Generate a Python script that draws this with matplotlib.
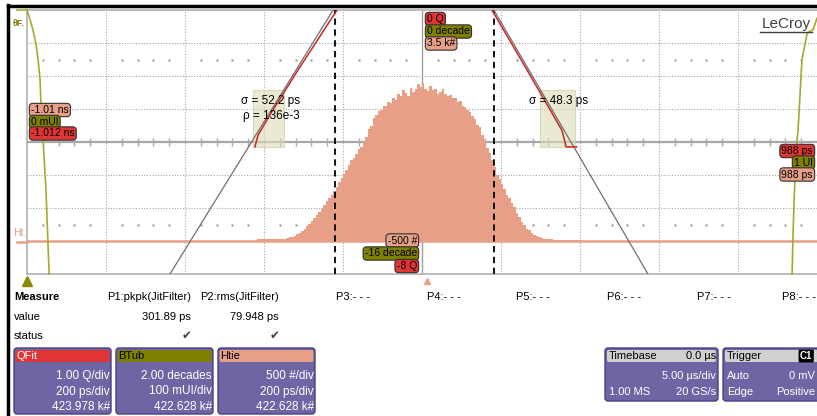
import matplotlib
matplotlib.use('Agg')
import matplotlib.pyplot as plt
from matplotlib.patches import FancyBboxPatch, Rectangle
import numpy as np

W, H = 817, 416
FAM = ['Liberation Sans', 'DejaVu Sans']

SALMON = '#E89F88'
OLIVE = '#7F7F00'
TUB = '#A8A830'
RED = '#E03535'
PANEL = '#6E66A4'

# Htie histogram: counts per 6.25 ps bin, first bin centred at -415.625 ps
hist_first_ps = -415.625
hist_bin_ps = 6.25
hist_counts = [25, 25, 25, 25, 25, 25, 25, 25, 25, 30, 30, 35, 45, 55, 65, 80,
               100, 120, 145, 175, 220, 255, 310, 345, 400, 440, 490, 545, 600, 650,
               690, 760, 820, 900, 950, 1010, 1080, 1150, 1230, 1260, 1320, 1400,
               1430, 1500, 1580, 1690, 1740, 1860, 1910, 1970, 1990, 2040, 2050, 2100,
               2090, 2170, 2140, 2230, 2200, 2290, 2250, 2200, 2320, 2260, 2300, 2380,
               2330, 2400, 2310, 2270, 2350, 2290, 2300, 2220, 2260, 2300, 2230, 2190,
               2210, 2170, 2160, 2110, 2120, 2050, 2030, 1980, 1960, 1900, 1850, 1760,
               1720, 1600, 1530, 1410, 1340, 1220, 1120, 1000, 940, 860, 790, 700,
               650, 570, 510, 420, 360, 290, 240, 185, 160, 120, 95, 70, 55, 40,
               32, 28, 26, 24, 20, 20, 20, 18, 16, 15, 15, 13, 12, 10, 10, 8, 6, 5, 5, 4]

# BTub bathtub curve, ps vs log10(BER) in decades
tub_left_ps = [-1000, -992, -985, -977, -972, -967, -965, -959, -952, -947, -944]
tub_left_dec = [0, -0.6, -1.2, -2.1, -3.0, -4.2, -5.5, -8.0, -10.9, -14.1, -16]
tub_right_ps = [1000, 990, 975, 962, 952, 949, 942, 939, 937]
tub_right_dec = [-0.5, -1.2, -1.4, -3.0, -7.3, -8.0, -11.5, -13.9, -16]

# QFit: measured Q curves and the fitted straight lines
qfit_left_ps = [-215, -314, -385, -415, -423]
qfit_left_q = [0, -1.82, -3.18, -3.79, -4.15]
qfit_right_ps = [177, 266, 354, 362, 365, 392]
qfit_right_q = [0, -1.82, -3.64, -4.0, -4.15, -4.15]
qline_left_ps = [-225, -638]
qline_left_q = [0, -8]
qline_right_ps = [182, 572]
qline_right_q = [0, -8]
fit_box_ps = [(-428, -349), (299, 387)]
fit_box_q = (-4.15, -2.42)
cursor_ps = [-220, 182]

# measure table
measure_names = ['P1:pkpk(JitFilter)', 'P2:rms(JitFilter)', 'P3:- - -', 'P4:- - -',
                 'P5:- - -', 'P6:- - -', 'P7:- - -', 'P8:- - -']
measure_values = ['301.89 ps', '79.948 ps']

traces = ['QFit', 'BTub', 'Htie']
trace_colors = [RED, OLIVE, SALMON]
trace_lines = [['1.00 Q/div', '200 ps/div', '423.978 k#'],
               ['2.00 decades', '100 mUI/div', '422.628 k#'],
               ['500 #/div', '200 ps/div', '422.628 k#']]

fig = plt.figure(figsize=(W / 100, H / 100), dpi=100)
fig.patch.set_facecolor('white')

# grid area
ax = fig.add_axes([27 / W, 1 - 274 / H, 790 / W, 264 / H])
ax.set_xlim(-1000, 1000)
ax.set_ylim(-500, 3500)
ax.set_xticks([])
ax.set_yticks([])
for s in ['left', 'top', 'bottom']:
    ax.spines[s].set_color('#B0B0B0')
    ax.spines[s].set_linewidth(1.2)
ax.spines['right'].set_visible(False)

for xv in range(-800, 1000, 200):
    if xv != 0:
        ax.axvline(xv, color='#A8A8A8', lw=0.8, ls=(0, (1, 1.5)), zorder=1)
ax.axvline(0, color='#A0A0A0', lw=1.0, zorder=1)
for yv in range(0, 3500, 500):
    if yv != 1500:
        ax.axhline(yv, color='#A8A8A8', lw=0.8, ls=(0, (1, 1.5)), zorder=1)
ax.axhline(1500, color='#A8A8A8', lw=1.6, zorder=1)
minor = [x for x in range(-960, 1000, 40) if x % 200 != 0]
ax.plot(minor, [1500] * len(minor), ls='none', marker='|', ms=6, mew=1.0,
        color='#A8A8A8', zorder=1)
ax.plot(minor, [2750] * len(minor), ls='none', marker='.', ms=1.5, color='#A0A0A0', zorder=1)
ax.plot(minor, [250] * len(minor), ls='none', marker='.', ms=1.5, color='#A0A0A0', zorder=1)

# histogram
n = len(hist_counts)
edges = hist_first_ps - hist_bin_ps / 2 + hist_bin_ps * np.arange(n + 1)
ax.stairs(hist_counts, edges, baseline=0, fill=True, color=SALMON, lw=0, zorder=2)
ax.axhline(0, color=SALMON, lw=1.8, zorder=2)

for c in cursor_ps:
    ax.axvline(c, color='black', lw=1.3, ls=(0, (3.5, 2.5)), zorder=4)

# QFit on its own vertical scale
axq = ax.twinx()
axq.set_ylim(-8, 0)
axq.axis('off')
for (x0, x1) in fit_box_ps:
    axq.add_patch(Rectangle((x0, fit_box_q[0]), x1 - x0, fit_box_q[1] - fit_box_q[0],
                            fc='#DCDCB4', ec='#C8C8A0', lw=0.8, alpha=0.6, zorder=1))
axq.plot(qline_left_ps, qline_left_q, color='#707070', lw=0.9, zorder=3)
axq.plot(qline_right_ps, qline_right_q, color='#707070', lw=0.9, zorder=3)
axq.plot(qfit_left_ps, qfit_left_q, color='#C82828', lw=1.1, zorder=4)
axq.plot(qfit_right_ps, qfit_right_q, color='#C82828', lw=1.1, zorder=4)
axq.text(-457, -2.75, 'σ = 52.2 ps', fontsize=8.5, family=FAM, va='center', zorder=5)
axq.text(-452, -3.22, 'ρ = 136e-3', fontsize=8.5, family=FAM, va='center', zorder=5)
axq.text(270, -2.75, 'σ = 48.3 ps', fontsize=8.5, family=FAM, va='center', zorder=5)

# bathtub on its own vertical scale
axb = ax.twinx()
axb.set_ylim(-16, 0)
axb.axis('off')
axb.plot(tub_left_ps, tub_left_dec, color=TUB, lw=1.2, clip_on=False)
axb.plot(tub_right_ps, tub_right_dec, color=TUB, lw=1.2, clip_on=False)

# overlay in pixel coordinates for screen furniture
ov = fig.add_axes([0, 0, 1, 1], zorder=10)
ov.set_xlim(0, W)
ov.set_ylim(H, 0)
ov.axis('off')
ov.plot([8, 8], [5, H], color='black', lw=2.5)
ov.plot([8, W], [5.5, 5.5], color='black', lw=2.5)
ov.plot([17, 27], [242, 242], color=SALMON, lw=1.8)
ov.plot([17, 27], [10, 10], color=TUB, lw=1.2)
ov.text(13, 23, 'θF.', color='#8A7A10', fontsize=6.5, fontweight='bold', family=FAM, va='center')
ov.text(13, 233, 'Ht.', color=SALMON, fontsize=7.5, family=FAM, va='center')
ov.text(786, 24, 'LeCroy', color='#404040', fontsize=11, family=FAM, ha='center', va='center')
ov.plot([760, 812], [32, 32], color='#404040', lw=1)
ov.plot([27], [281], marker='^', ms=7, color='#8A8A00', clip_on=False)
ov.plot([427], [281], marker='^', ms=5, color=SALMON, clip_on=False)


def tag(x, y, s, fc, ha='left'):
    ov.text(x, y, s, ha=ha, va='center', fontsize=7.5, family=FAM, color='black',
            bbox=dict(boxstyle='round,pad=0.16,rounding_size=0.35', fc=fc, ec='#303030', lw=0.8))


tag(31, 110, '-1.01 ns', SALMON)
tag(31, 122, '0 mUI', OLIVE)
tag(31, 133.5, '-1.012 ns', RED)
tag(427, 19, '0 Q', RED)
tag(427, 31.5, '0 decade', OLIVE)
tag(427, 43.5, '3.5 k#', SALMON)
tag(417, 240.5, '-500 #', SALMON, 'right')
tag(417, 253.5, '-16 decade', OLIVE, 'right')
tag(417, 266, '-8 Q', RED, 'right')
tag(813, 151, '988 ps', RED, 'right')
tag(813, 162.5, '1 UI', OLIVE, 'right')
tag(813, 174.5, '988 ps', SALMON, 'right')

# measure table
tfs = 8
ov.text(14, 297, 'Measure', fontsize=tfs, fontweight='bold', family=FAM, va='center')
ov.text(14, 317, 'value', fontsize=tfs, family=FAM, va='center')
ov.text(14, 336, 'status', fontsize=tfs, family=FAM, va='center')
name_x = [191, 279, 336, 427, 516, 607, 697, 782]
for i, name in enumerate(measure_names):
    ha = 'right' if i < 2 else 'left'
    ov.text(name_x[i], 297, name, fontsize=tfs, family=FAM, va='center', ha=ha)
for i, v in enumerate(measure_values):
    ov.text(name_x[i], 317, v, fontsize=tfs, family=FAM, va='center', ha='right')
    ov.text(name_x[i] - 4, 336, '✔', fontsize=8.5, family='DejaVu Sans', va='center',
            ha='center', color='#404040')

# trace descriptor panels
for i, (name, col, lines) in enumerate(zip(traces, trace_colors, trace_lines)):
    x0 = 14 + i * 102
    ov.add_patch(FancyBboxPatch((x0, 348), 97, 66, boxstyle='round,pad=0,rounding_size=3',
                                fc=PANEL, ec='#4A4280', lw=1))
    ov.add_patch(FancyBboxPatch((x0 + 1.5, 350), 94, 12, boxstyle='round,pad=0,rounding_size=2',
                                fc=col, ec='none'))
    ov.text(x0 + 2.5, 356, name, fontsize=tfs, family=FAM, va='center',
            color='white' if i == 0 else 'black')
    for j, s in enumerate(lines):
        ov.text(x0 + 96, 376 + j * 15.5, s, fontsize=tfs + 0.5, family=FAM, va='center',
                ha='right', color='white')

# timebase and trigger panels
ov.add_patch(FancyBboxPatch((605, 348), 113, 53, boxstyle='round,pad=0,rounding_size=3',
                            fc=PANEL, ec='#4A4280', lw=1))
ov.add_patch(FancyBboxPatch((607, 350), 109, 12, boxstyle='round,pad=0,rounding_size=2',
                            fc='#D0D0D0', ec='none'))
ov.text(609, 356, 'Timebase', fontsize=tfs, family=FAM, va='center')
ov.text(716, 356, '0.0 µs', fontsize=tfs, family=FAM, va='center', ha='right')
ov.text(716, 376, '5.00 µs/div', fontsize=tfs, family=FAM, va='center', ha='right', color='white')
ov.text(609, 392, '1.00 MS', fontsize=tfs, family=FAM, va='center', color='white')
ov.text(716, 392, '20 GS/s', fontsize=tfs, family=FAM, va='center', ha='right', color='white')

ov.add_patch(FancyBboxPatch((723, 348), 100, 53, boxstyle='round,pad=0,rounding_size=3',
                            fc=PANEL, ec='#4A4280', lw=1))
ov.add_patch(FancyBboxPatch((725, 350), 100, 12, boxstyle='round,pad=0,rounding_size=2',
                            fc='#D0D0D0', ec='none'))
ov.text(727, 356, 'Trigger', fontsize=tfs, family=FAM, va='center')
ov.text(800, 356, 'C1', fontsize=7, family=FAM, va='center', fontweight='bold', color='white',
        bbox=dict(boxstyle='round,pad=0.15', fc='black', ec='none'))
ov.text(815, 376, '0 mV', fontsize=tfs, family=FAM, va='center', ha='right', color='white')
ov.text(727, 376, 'Auto', fontsize=tfs, family=FAM, va='center', color='white')
ov.text(727, 392, 'Edge', fontsize=tfs, family=FAM, va='center', color='white')
ov.text(815, 392, 'Positive', fontsize=tfs, family=FAM, va='center', ha='right', color='white')

fig.savefig('out.png', dpi=100)
